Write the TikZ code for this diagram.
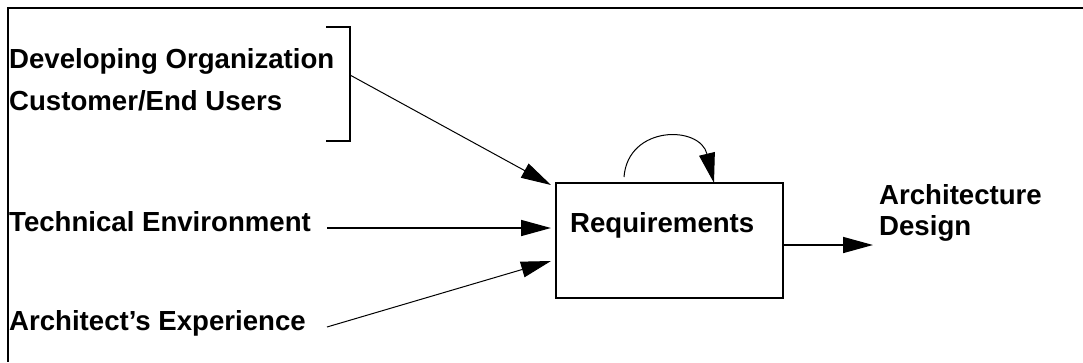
\documentclass[tikz,border=0pt]{standalone}
\usepackage{fontspec}
\setmainfont{Liberation Sans}
\usetikzlibrary{arrows.meta,calc}
\tikzset{
  lbl/.style={anchor=base west,inner sep=0pt,font=\bfseries\fontsize{27.6}{31}\selectfont,align=left},
  boxed/.style={draw,line width=1.8pt,minimum width=227pt,minimum height=115pt,inner sep=0pt,outer sep=0pt},
  frame/.style={line width=2pt},
  brk/.style={line width=2pt},
  conn/.style={line width=1pt,-{Triangle[length=30pt,width=16pt]}},
  thickconn/.style={line width=1.6pt,-{Triangle[length=30pt,width=16pt]}}
}
\begin{document}
\begin{tikzpicture}[x=1pt,y=-1pt]
\useasboundingbox (0,0) rectangle (1083,362);
% partial frame
\coordinate (fTL) at (8,8);
\coordinate (fTR) at (1083,8);
\coordinate (fBL) at (8,362);
\draw[frame] (fTR) -- (fTL) -- (fBL);
% texts
\node[lbl] (dev) at (9,68) {Developing Organization};
\node[lbl] (cust) at (9,110) {Customer/End Users};
\node[lbl] (tech) at (9,231) {Technical Environment};
\node[lbl] (exp) at (9,330) {Architect’s Experience};
% bracket
\coordinate (bT) at (326,27);
\coordinate (bTR) at (350,27);
\coordinate (bBR) at (350,141);
\coordinate (bB) at (326,141);
\draw[brk] (bT) -- (bTR) -- (bBR) -- (bB);
\coordinate (brkout) at (350,75);
% requirements box
\node[boxed] (req) at (669.5,240.5) {};
\node[lbl] (reqtxt) at (570,232) {Requirements};
% output
\node[lbl] (arch) at (879,235) {Architecture\\Design};
% connectors
\coordinate (techout) at (327,228);
\coordinate (expout) at (327,327);
\coordinate (archin) at (873,245);
\draw[conn] (brkout) -- ($(req.north west)+(-5,2)$);
\draw[thickconn] (techout) -- ($(req.north west)+(-5,45)$);
\draw[conn] (expout) -- ($(req.north west)+(-5,78)$);
\draw[thickconn] ($(req.north east)+(0,62)$) -- (archin);
% self loop
\coordinate (loopS) at (624,177);
\draw[conn] (loopS) .. controls (628,125) and (700,125) .. ($(req.north west)+(158,0)$);
\end{tikzpicture}
\end{document}
